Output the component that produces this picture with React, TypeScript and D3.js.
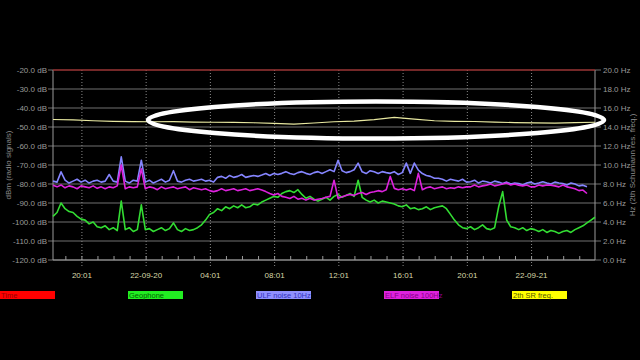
import React from "react";
import * as d3 from "d3";

// ---------- data ----------
const startTime = new Date(2022, 8, 19, 18, 13);
const stepMinutes = 15; // noise series sample step
const srStepMinutes = 75; // SR frequency sample step

const majorTickTimes = [
  new Date(2022, 8, 19, 20, 1),
  new Date(2022, 8, 20, 0, 1),
  new Date(2022, 8, 20, 4, 1),
  new Date(2022, 8, 20, 8, 1),
  new Date(2022, 8, 20, 12, 1),
  new Date(2022, 8, 20, 16, 1),
  new Date(2022, 8, 20, 20, 1),
  new Date(2022, 8, 21, 0, 1),
];
const majorTickLabels = ["20:01", "22-09-20", "04:01", "08:01", "12:01", "16:01", "20:01", "22-09-21"];

const dbTicks = [-20, -30, -40, -50, -60, -70, -80, -90, -100, -110, -120];
const hzTicks = [20, 18, 16, 14, 12, 10, 8, 6, 4, 2, 0];

const geophone = [
  -97, -95, -90, -93, -94.5, -95, -97, -98.5, -99, -101, -100, -102.5, -103, -102, -104, -103,
  -104.5, -89, -104, -103, -105, -104, -91, -104, -103.5, -105, -104, -103, -104.5, -103.5, -100.5, -104,
  -105, -103.5, -104.5, -104, -103, -101.5, -99, -96, -95, -93, -94, -92, -93, -91.5, -92.5, -91,
  -92.5, -92, -90.5, -91, -89.5, -88.5, -87.5, -86.5, -87, -85, -84, -83.5, -84.5, -83, -85.5, -87.5,
  -86.5, -88, -89, -88, -87, -88.5, -86.5, -85.5, -87, -86, -85, -86.5, -78, -87, -88.5, -89.5,
  -88.5, -90, -89, -89.5, -90, -90.5, -91.5, -92, -91, -93, -92.5, -93.5, -93, -92, -93.5, -92.5,
  -92, -91.5, -93, -96, -99, -101.5, -103, -103.5, -102.5, -104, -103, -101.5, -103.5, -104, -103, -92,
  -84, -99, -102.5, -103, -104, -103, -104.5, -103.5, -104, -105, -104, -105.5, -104.5, -105, -106, -105,
  -104.5, -105.5, -104, -103, -102, -100.5, -99, -97.5,
];

const ulfNoise = [
  -78.5, -79, -73.6, -78, -79.5, -78.5, -77.5, -79, -78, -79.5, -78.5, -78, -79, -78.5, -75, -78.5,
  -79, -65.7, -78.5, -79.5, -78, -78.5, -67.5, -79, -78, -79.5, -78.5, -77.5, -79, -78, -73, -78.5,
  -79, -78, -77.5, -78.5, -78, -77.5, -78.5, -78, -79, -76.5, -76, -77, -75.5, -76.5, -76, -75,
  -76.5, -76, -75.5, -76, -75.3, -74.5, -75.5, -74.5, -75, -74.4, -73.5, -74.5, -75, -74, -73.5, -74.4,
  -75, -74, -73.5, -74.5, -73.5, -72.5, -73.5, -67.5, -73, -74, -73.5, -72.5, -69, -73.6, -74.5, -73,
  -73.6, -74.5, -73.5, -74, -74.4, -73.5, -75, -74, -69, -74.4, -69, -72.7, -74.5, -75.5, -76, -77,
  -77, -77.5, -78.5, -77.5, -78, -78.5, -77.5, -79, -78.8, -78, -79.5, -78.5, -78.8, -79.5, -78.5, -79,
  -79.7, -79, -80, -79.5, -79.7, -80.5, -79.5, -79, -80, -79.5, -78.8, -79.5, -80, -79, -79.5, -79.7,
  -80.5, -79.5, -80, -81, -80.6, -81.5,
];

const elfNoise = [
  -80.6, -81.5, -80.5, -82, -81, -81.5, -82.5, -81, -81.5, -82, -81, -82.3, -81.5, -82.5, -81.5, -82,
  -81, -70, -82.5, -81.5, -82, -81.5, -72, -82.5, -81.5, -82, -83, -81.5, -82.5, -82, -81.5, -82.5,
  -82, -81.5, -83, -82, -82.5, -83, -82.5, -83.5, -84, -83.5, -82.5, -83.5, -83, -82.5, -83.5, -83,
  -82.5, -83.5, -83, -82.5, -83.2, -84, -85, -85.8, -85, -86.5, -87, -87.6, -86.5, -88, -87.5, -88.5,
  -87.5, -88.5, -88, -87.6, -87, -86.5, -78, -87.5, -86.7, -86, -85.5, -86, -85, -84.5, -85.5, -84.5,
  -84.1, -83.5, -84, -83, -76, -82.3, -83, -82.5, -83.2, -82.5, -83.5, -74.4, -83, -82, -81.5, -82.5,
  -82, -81.5, -82.5, -82, -82.3, -81.5, -82, -81.5, -81.5, -80.5, -81.5, -81, -80.6, -80, -81, -80.5,
  -80, -79.5, -80.5, -80, -80.6, -81, -80.5, -81.5, -81.5, -80.5, -81, -80.5, -80.6, -81, -81.5, -80.5,
  -81.5, -82, -82.5, -83.5, -83.2, -85,
];

const srFreq = [
  14.79, 14.74, 14.66, 14.6, 14.57, 14.55, 14.56, 14.52, 14.5, 14.48, 14.45, 14.38, 14.3, 14.42,
  14.55, 14.62, 14.78, 15.02, 14.82, 14.66, 14.6, 14.58, 14.52, 14.46, 14.44, 14.4, 14.46, 14.5,
];

const timeSeriesDb = [-20, -20];

const legendItems = [
  { name: "Time", fill: "#ff0000", text: "#990000" },
  { name: "Geophone", fill: "#22ee22", text: "#006600" },
  { name: "ULF noise 10Hz", fill: "#9090ff", text: "#3333bb" },
  { name: "ELF noise 100Hz", fill: "#dd22dd", text: "#880088" },
  { name: "2th SR freq.", fill: "#ffff00", text: "#555500" },
];

// ---------- layout ----------
const W = 640;
const H = 360;
const left = 53;
const right = 595;
const top = 70;
const bottom = 260;
const font = "'Liberation Sans', Arial, sans-serif";

const endTime = new Date(startTime.getTime() + (geophone.length - 1) * stepMinutes * 60000);

export default function App() {
  const x = d3.scaleTime().domain([startTime, endTime]).range([left, right]);
  const yDb = d3.scaleLinear().domain([-120, -20]).range([bottom, top]);
  const yHz = d3.scaleLinear().domain([0, 20]).range([bottom, top]);

  const tAt = (i: number, step: number) => new Date(startTime.getTime() + i * step * 60000);

  const dbLine = d3
    .line<number>()
    .x((_, i) => x(tAt(i, stepMinutes)))
    .y((d) => yDb(d));
  const hzLine = d3
    .line<number>()
    .x((_, i) => x(tAt(i, srStepMinutes)))
    .y((d) => yHz(d));

  const hourTicks = d3.timeHour.range(startTime, endTime).map((d) => new Date(d.getTime() + 60000));

  return (
    <svg
      width={W}
      height={H}
      style={{ position: "absolute", left: 0, top: 0, background: "#000" }}
      fontFamily={font}
    >
      <rect x={0} y={0} width={W} height={H} fill="#000" />
      {/* horizontal grid + ticks */}
      {dbTicks.map((t) => (
        <g key={"g" + t}>
          <line x1={left - 5} x2={right + 6} y1={yDb(t)} y2={yDb(t)} stroke="#707070" strokeWidth={1} />
          <text x={left - 6} y={yDb(t) + 3} fontSize={8} fill="#9a9a9a" textAnchor="end">
            {t.toFixed(1) + " dB"}
          </text>
        </g>
      ))}
      {hzTicks.map((t) => (
        <text key={"hz" + t} x={right + 8} y={yHz(t) + 3} fontSize={8} fill="#9a9a9a">
          {t.toFixed(1) + " Hz"}
        </text>
      ))}
      {/* vertical dotted major grid */}
      {majorTickTimes.map((t, i) => (
        <g key={"m" + i}>
          <line
            x1={x(t)}
            x2={x(t)}
            y1={top}
            y2={bottom + 8}
            stroke="#8a8a8a"
            strokeWidth={1}
            strokeDasharray="1,2"
          />
          <text x={x(t)} y={bottom + 18} fontSize={8} fill="#d8d8a8" textAnchor="middle">
            {majorTickLabels[i]}
          </text>
        </g>
      ))}
      {/* minor hour ticks */}
      {hourTicks.map((t, i) => (
        <line key={"h" + i} x1={x(t)} x2={x(t)} y1={bottom - 4} y2={bottom} stroke="#9a9a9a" />
      ))}
      {/* axes */}
      <line x1={left} x2={left} y1={top} y2={bottom} stroke="#9a9a9a" />
      <line x1={right} x2={right} y1={top} y2={bottom} stroke="#9a9a9a" />
      <line x1={left} x2={right} y1={bottom} y2={bottom} stroke="#9a9a9a" />
      {/* Time series (red top line) */}
      <line
        x1={x(startTime)}
        x2={x(endTime)}
        y1={yDb(timeSeriesDb[0])}
        y2={yDb(timeSeriesDb[1])}
        stroke="#b01818"
        strokeWidth={1}
      />
      {/* series */}
      <path d={dbLine(geophone) || ""} fill="none" stroke="#33dd33" strokeWidth={1.6} strokeLinejoin="round" />
      <path d={dbLine(ulfNoise) || ""} fill="none" stroke="#8585ff" strokeWidth={1.6} strokeLinejoin="round" />
      <path d={dbLine(elfNoise) || ""} fill="none" stroke="#dd22dd" strokeWidth={1.6} strokeLinejoin="round" />
      <path d={hzLine(srFreq) || ""} fill="none" stroke="#e8e8a0" strokeWidth={1.2} />
      {/* annotation ellipse */}
      <ellipse cx={376} cy={120} rx={228} ry={18.5} fill="none" stroke="#ffffff" strokeWidth={4.5} />
      {/* axis titles */}
      <text
        transform={`translate(11, ${(top + bottom) / 2}) rotate(-90)`}
        fontSize={8}
        fill="#8a8a8a"
        textAnchor="middle"
      >
        dBm (radio signals)
      </text>
      <text
        transform={`translate(635, ${(top + bottom) / 2}) rotate(-90)`}
        fontSize={8}
        fill="#8a8a8a"
        textAnchor="middle"
      >
        Hz (2th Schumann res. freq.)
      </text>
      {/* legend */}
      {legendItems.map((it, i) => (
        <g key={it.name} transform={`translate(${i * 128}, 291)`}>
          <rect x={0} y={0} width={55} height={8} fill={it.fill} />
          <text x={1} y={7} fontSize={7.5} fill={it.text}>
            {it.name}
          </text>
        </g>
      ))}
    </svg>
  );
}
